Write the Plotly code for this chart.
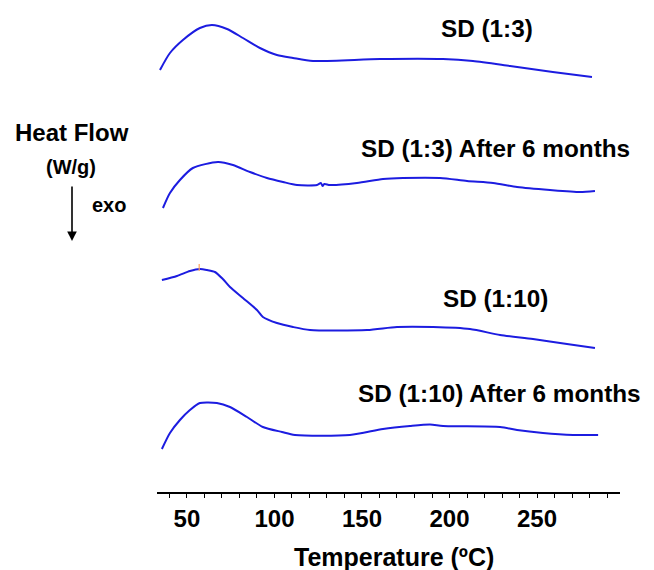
import plotly.graph_objects as go

# Temperature (°C) and heat flow (arbitrary units, curves offset vertically)
t_sd13 = [34.6, 40.3, 47.7, 57.4, 64.3, 72.9, 82.0, 91.7, 101.4, 110.6, 122.0, 160.3, 196.3, 213.4, 234.6, 259.0, 281.4]
hf_sd13 = [4.22, 4.39, 4.52, 4.64, 4.67, 4.63, 4.54, 4.44, 4.37, 4.34, 4.31, 4.33, 4.33, 4.31, 4.26, 4.20, 4.15]

t_sd13_6m = [36.3, 40.3, 46.0, 53.4, 67.7, 76.3, 86.0, 95.7, 104.9, 112.9, 124.3, 126.5, 127.5, 128.5, 131.7, 147.1, 162.0, 173.4, 194.6, 210.0, 224.9, 238.6, 257.4, 274.6, 283.1]
hf_sd13_6m = [2.84, 2.99, 3.12, 3.24, 3.30, 3.27, 3.20, 3.14, 3.10, 3.07, 3.07, 3.09, 3.06, 3.08, 3.07, 3.09, 3.13, 3.14, 3.14, 3.11, 3.09, 3.05, 3.02, 3.00, 3.01]

t_sd110 = [35.7, 44.3, 51.7, 57.4, 61.4, 66.0, 70.5, 74.6, 82.0, 90.0, 93.4, 101.4, 110.6, 120.3, 152.9, 170.0, 190.6, 211.7, 228.9, 247.7, 267.1, 283.1]
hf_sd110 = [2.12, 2.16, 2.21, 2.23, 2.22, 2.20, 2.13, 2.05, 1.94, 1.82, 1.75, 1.69, 1.65, 1.62, 1.62, 1.65, 1.65, 1.63, 1.57, 1.53, 1.48, 1.44]

t_sd110_6m = [35.7, 40.3, 46.0, 51.7, 57.4, 67.1, 74.6, 84.3, 93.4, 104.3, 111.7, 143.1, 162.0, 177.4, 188.9, 196.3, 228.9, 238.6, 253.4, 270.6, 284.9]
hf_sd110_6m = [0.43, 0.59, 0.72, 0.82, 0.89, 0.89, 0.85, 0.75, 0.65, 0.60, 0.57, 0.57, 0.63, 0.66, 0.675, 0.66, 0.65, 0.62, 0.59, 0.57, 0.57]

# small black instrument mark on SD (1:10) peak
mark_t = [57.0]
mark_hf = [2.245]

series = [
    (t_sd13, hf_sd13),
    (t_sd13_6m, hf_sd13_6m),
    (t_sd110, hf_sd110),
    (t_sd110_6m, hf_sd110_6m),
]
labels = ["SD (1:3)", "SD (1:3) After 6 months", "SD (1:10)", "SD (1:10) After 6 months"]
label_x = [221.7, 148.3, 226.0, 146.5]
label_y = [4.64, 3.44, 1.94, 0.99]
label_anchor = ["center", "left", "center", "left"]

tick_vals = [50, 100, 150, 200, 250]
tick_text = ["50", "100", "150", "200", "250"]

FONT = "Liberation Sans, Arial, sans-serif"
BLUE = "#1c1ce0"

fig = go.Figure()
for t, hf in series:
    fig.add_trace(go.Scatter(x=t, y=hf, mode="lines",
                             line=dict(color=BLUE, width=2, shape="spline", smoothing=0.7),
                             showlegend=False, hoverinfo="skip"))
fig.add_trace(go.Scatter(x=mark_t, y=mark_hf, mode="markers",
                         marker=dict(symbol="line-ns-open", size=5, line=dict(color="black", width=1.2)),
                         showlegend=False, hoverinfo="skip"))

# page offset (browser body margin) compensation
OFF = 8
W, H = 654 - OFF, 570 - OFF
L, R, T, B = 157 - OFF, 620 - OFF, 10 - OFF, 492 - OFF

def px(x):
    return (x - OFF - L) / (R - L)

def py(y):
    return (B - (y - OFF)) / (B - T)

annotations = []
for txt, x, y, anc in zip(labels, label_x, label_y, label_anchor):
    annotations.append(dict(x=x, y=y, xref="x", yref="y", text=txt, showarrow=False,
                            xanchor=anc, yanchor="middle",
                            font=dict(family=FONT, size=24.3, color="black", weight="bold")))

annotations += [
    dict(x=px(394), y=py(557), xref="paper", yref="paper", text="Temperature (ºC)",
         showarrow=False, xanchor="center", yanchor="middle",
         font=dict(family=FONT, size=25, color="black", weight="bold")),
    dict(x=px(72), y=py(132), xref="paper", yref="paper", text="Heat Flow",
         showarrow=False, xanchor="center", yanchor="middle",
         font=dict(family=FONT, size=24, color="black", weight="bold")),
    dict(x=px(71), y=py(167), xref="paper", yref="paper", text="(W/g)",
         showarrow=False, xanchor="center", yanchor="middle",
         font=dict(family=FONT, size=20, color="black", weight="bold")),
    dict(x=px(109), y=py(205), xref="paper", yref="paper", text="exo",
         showarrow=False, xanchor="center", yanchor="middle",
         font=dict(family=FONT, size=20, color="black", weight="bold")),
    dict(x=px(72), y=py(241), xref="paper", yref="paper", text="",
         showarrow=True, ax=0, ay=-56, axref="pixel", ayref="pixel",
         arrowhead=2, arrowsize=1.2, arrowwidth=1.6, arrowcolor="black"),
]

fig.update_layout(
    width=W, height=H,
    margin=dict(l=L, r=W - R, t=T, b=H - B),
    paper_bgcolor="white", plot_bgcolor="white",
    annotations=annotations,
    xaxis=dict(range=[32.9, 297.4], tickvals=tick_vals, ticktext=tick_text,
               showgrid=False, zeroline=False, showline=True, linecolor="black", linewidth=1.5,
               ticks="outside", ticklen=4, tickwidth=1.2, tickcolor="black",
               minor=dict(dtick=10, tick0=0, ticks="outside", ticklen=4, tickwidth=1.2, tickcolor="black", showgrid=False),
               tickfont=dict(family=FONT, size=24, color="black", weight="bold")),
    yaxis=dict(range=[0, 4.82], visible=False, showgrid=False, zeroline=False),
)

fig.write_html("out.html")
